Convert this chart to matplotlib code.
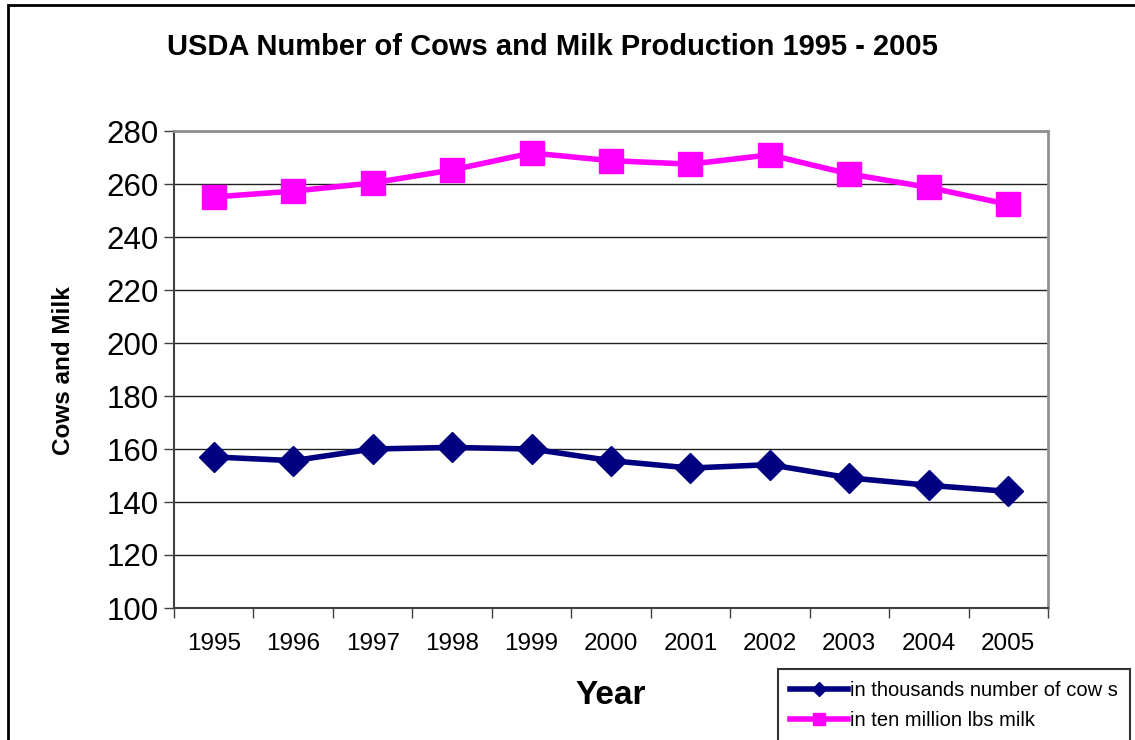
import matplotlib
matplotlib.use("Agg")
import matplotlib.pyplot as plt
from matplotlib.patches import Rectangle

years = ["1995", "1996", "1997", "1998", "1999", "2000", "2001", "2002", "2003", "2004", "2005"]
cows = [157.0, 155.6, 160.0, 160.6, 160.0, 155.6, 152.8, 154.1, 149.1, 146.3, 144.0]
milk = [255.1, 257.3, 260.4, 265.3, 271.7, 268.8, 267.5, 271.0, 263.8, 258.7, 252.3]
yticks = [100, 120, 140, 160, 180, 200, 220, 240, 260, 280]

plt.rcParams['font.family'] = ['Liberation Sans', 'DejaVu Sans']

W, H = 1135, 740
fig = plt.figure(figsize=(W / 100, H / 100), dpi=100)

# outer chart border
fig.patches.append(Rectangle((8 / W, -0.01), 1.02, 1 - 5 / H + 0.01, transform=fig.transFigure,
                             fill=False, edgecolor='black', linewidth=2.0, zorder=0))

ax = fig.add_axes([174 / W, 1 - 608 / H, (1048 - 174) / W, (608 - 131) / H])
x = list(range(len(years)))

ax.plot(x, cows, color='#000080', linewidth=4, marker='D', markersize=15, label='in thousands number of cow s', zorder=3)
ax.plot(x, milk, color='#FF00FF', linewidth=4, marker='s', markersize=17, label='in ten million lbs milk', zorder=3)

ax.set_xlim(-0.5, len(years) - 0.5)
ax.set_ylim(100, 280)
ax.set_yticks(yticks)
ax.set_yticklabels([str(v) for v in yticks], fontsize=22.5)
ax.set_xticks(x)
ax.set_xticklabels(years, fontsize=17.5)
ax.tick_params(axis='x', length=0, pad=18)
ax.set_xticks([i - 0.5 for i in range(len(years) + 1)], minor=True)
ax.tick_params(axis='x', which='minor', length=7, width=1, color='#404040', direction='out')
ax.tick_params(axis='y', length=7, width=1, color='#404040', direction='out', pad=4)

ax.grid(axis='y', color='#202020', linewidth=1)
ax.set_axisbelow(True)
for s in ['top', 'right']:
    ax.spines[s].set_color('#909090')
    ax.spines[s].set_linewidth(2)
for s in ['left', 'bottom']:
    ax.spines[s].set_color('#404040')
    ax.spines[s].set_linewidth(1.5)

fig.text(552 / W, 1 - 47 / H, 'USDA Number of Cows and Milk Production 1995 - 2005', fontsize=21,
         fontweight='bold', ha='center', va='center')
fig.text(611 / W, 1 - 695 / H, 'Year', fontsize=24, fontweight='bold', ha='center', va='center')
fig.text(63 / W, 1 - 371 / H, 'Cows and Milk', fontsize=17.5, fontweight='bold', ha='center', va='center',
         rotation=90)

leg = fig.legend(loc='upper left', bbox_to_anchor=(778 / W, 1 - 669 / H), fontsize=14.5,
                 frameon=True, fancybox=False, edgecolor='black', handlelength=2.9,
                 handletextpad=0.1, borderpad=0.6, labelspacing=0.55, markerscale=0.5,
                 borderaxespad=0)
leg.get_frame().set_linewidth(1.5)

fig.savefig('out.png', dpi=100)
